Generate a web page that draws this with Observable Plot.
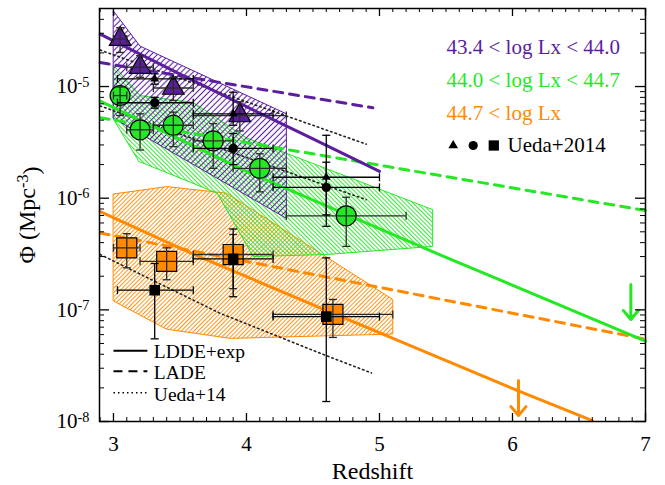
<!DOCTYPE html>
<html><head><meta charset="utf-8">
<script src="https://cdn.jsdelivr.net/npm/d3@7"></script>
<script src="https://cdn.jsdelivr.net/npm/@observablehq/plot@0.6"></script>
<style>body{margin:0;background:#fff}</style>
</head><body><div id="chart"></div>
<script>
// ---------------- data ----------------
const binLabels = ["43.4 < log Lx < 44.0", "44.0 < log Lx < 44.7", "44.7 < log Lx"];
const uedaLabel = "Ueda+2014";
const modelLabels = ["LDDE+exp", "LADE", "Ueda+14"];
const xTicks = [3, 4, 5, 6, 7];
const yTicks = [1e-8, 1e-7, 1e-6, 1e-5];

// binned points: [z, zlo, zhi, phi, philo, phihi]
const lowBin = [
  [3.05, 3.0, 3.1, 2.66e-5, 2.02e-5, 3.37e-5],
  [3.2, 3.1, 3.3, 1.49e-5, 1.21e-5, 1.89e-5],
  [3.45, 3.3, 3.6, 9.7e-6, 7.5e-6, 1.21e-5],
  [3.95, 3.6, 4.3, 5.5e-6, 4.0e-6, 7.3e-6]
];
const midBin = [
  [3.05, 3.0, 3.1, 8.3e-6, 5.5e-6, 9.9e-6],
  [3.2, 3.1, 3.3, 4.1e-6, 2.7e-6, 5.7e-6],
  [3.45, 3.3, 3.6, 4.5e-6, 2.9e-6, 5.9e-6],
  [3.75, 3.6, 3.9, 3.26e-6, 1.85e-6, 4.66e-6],
  [4.1, 3.9, 4.3, 1.85e-6, 1.14e-6, 2.5e-6],
  [4.75, 4.3, 5.2, 6.95e-7, 3.7e-7, 1.02e-6]
];
const highBin = [
  [3.1, 3.0, 3.2, 3.59e-7, 2.38e-7, 4.81e-7],
  [3.4, 3.2, 3.6, 2.72e-7, 1.86e-7, 3.59e-7],
  [3.9, 3.6, 4.2, 3.13e-7, 1.55e-7, 4.73e-7],
  [4.65, 4.2, 5.1, 9.1e-8, 5.66e-8, 1.24e-7]
];
// Ueda+2014 points
const uedaLow = [
  [3.31, 3.03, 3.6, 1.17e-5, 1.05e-5, 1.3e-5],
  [3.9, 3.6, 4.2, 5.7e-6, 4.5e-6, 8.9e-6],
  [4.6, 4.2, 5.0, 1.54e-6, 7.1e-7, 3.66e-6]
];
const uedaMid = [
  [3.31, 3.03, 3.6, 7.16e-6, 6.4e-6, 8.0e-6],
  [3.9, 3.6, 4.2, 2.79e-6, 2.0e-6, 3.8e-6],
  [4.6, 4.2, 5.0, 1.25e-6, 5.6e-7, 2.1e-6]
];
const uedaHigh = [
  [3.31, 3.03, 3.6, 1.5e-7, 5.5e-8, 2.6e-7],
  [3.9, 3.6, 4.2, 2.86e-7, 1.31e-7, 5.3e-7],
  [4.6, 4.2, 5.0, 8.7e-8, 1.51e-8, 2.92e-7]
];
// model curves [z, phi]
const lowLDDE = [[2.9, 2.95e-5], [3.5, 1.29e-5], [4.0, 6.6e-6], [4.5, 3.4e-6], [5.0, 1.74e-6]];
const lowLADE = [[2.9, 1.64e-5], [4.95, 6.45e-6]];
const lowUeda = [[2.9, 2.12e-5], [4.9, 3.05e-6]];
const midLDDE = [[2.9, 7.41e-6], [4.0, 1.74e-6], [5.5, 2.95e-7], [7.0, 5.25e-8]];
const midLADE = [[2.9, 5.26e-6], [7.0, 7.76e-7]];
const midUeda = [[2.9, 6.7e-6], [4.9, 9.7e-7]];
const highLDDE = [[2.9, 7.59e-7], [3.6, 3.16e-7], [4.63, 9.55e-8], [6.03, 1.91e-8], [6.6, 1.02e-8]];
const highLADE = [[2.9, 4.88e-7], [7.0, 5.47e-8]];
const highUeda = [[2.9, 3.13e-7], [3.8, 9.33e-8], [4.6, 3.89e-8], [4.94, 2.72e-8]];
// uncertainty bands (closed polygons) [z, phi]
const lowBand = [[3.0, 4.75e-5], [3.2, 2.3e-5], [4.3, 5.7e-6], [4.3, 6.6e-7], [3.0, 5.2e-6]];
const midBand = [[3.0, 1.55e-5], [3.2, 8.3e-6], [3.6, 7.2e-6], [4.0, 3.47e-6], [5.4, 7.9e-7],
  [5.4, 3.7e-7], [4.6, 3.13e-7], [4.05, 3.0e-7], [3.78, 1.11e-6], [3.19, 2.14e-6], [3.0, 5.1e-6]];
const highBand = [[3.0, 1.09e-6], [3.4, 1.27e-6], [3.85, 1.11e-6], [5.1, 1.24e-7],
  [5.1, 6.07e-8], [3.88, 5.55e-8], [3.4, 6.71e-8], [3.0, 1.2e-7]];
// upper limits [z, phiFrom, phiTo]
const midLimit = [[6.89, 1.69e-7, 8.2e-8]];
const highLimit = [[6.045, 2.33e-8, 1.13e-8]];

// ---------------- style / layout ----------------
const PURPLE = "#5b1e9e", GREEN = "#25e825", ORANGE = "#ff8a00";
const FONT = "Liberation Serif, Times New Roman, serif";
const W = 665, H = 485, mL = 99, mR = 20, mT = 8, mB = 64;
const FW = W - mL - mR, FH = H - mT - mB;
const legendLineX = [3.0, 3.255];
const legendLineY = [4.3e-8, 2.82e-8, 1.81e-8];

const xMinor = d3.range(29, 70).map(v => v / 10).filter(v => Math.abs(v - Math.round(v)) > 1e-9);
const yMinor = [];
for (let e = -8; e <= -5; e++) for (let k = 2; k <= 9; k++) { const v = k * Math.pow(10, e); if (v <= 5e-5) yMinor.push(v); }

const capH = {draw(ctx, size) { const r = Math.sqrt(size / Math.PI); ctx.moveTo(-r, 0); ctx.lineTo(r, 0); }};
const capV = {draw(ctx, size) { const r = Math.sqrt(size / Math.PI); ctx.moveTo(0, -r); ctx.lineTo(0, r); }};

function errBars(rows, color) {
  const o = {stroke: color, strokeWidth: 1.3};
  return [
    Plot.ruleX(rows, {x: d => d[0], y1: d => d[4], y2: d => d[5], ...o}),
    Plot.ruleY(rows, {y: d => d[3], x1: d => d[1], x2: d => d[2], ...o}),
    Plot.dot(rows, {x: d => d[0], y: d => d[4], symbol: capH, r: 4, fill: "none", ...o}),
    Plot.dot(rows, {x: d => d[0], y: d => d[5], symbol: capH, r: 4, fill: "none", ...o}),
    Plot.dot(rows, {x: d => d[1], y: d => d[3], symbol: capV, r: 4, fill: "none", ...o}),
    Plot.dot(rows, {x: d => d[2], y: d => d[3], symbol: capV, r: 4, fill: "none", ...o})
  ];
}
const px = d => d[0], py = d => d[1];
function band(rows, color, id) {
  return Plot.line(rows, {x: px, y: py, curve: "linear-closed", stroke: color, strokeWidth: 1, fill: `url(#${id})`});
}
function solid(rows, color) { return Plot.line(rows, {x: px, y: py, stroke: color, strokeWidth: 3}); }
function dashed(rows, color) { return Plot.line(rows, {x: px, y: py, stroke: color, strokeWidth: 3, strokeDasharray: "9,7"}); }
function dotted(rows) { return Plot.line(rows, {x: px, y: py, stroke: "#222", strokeWidth: 1.6, strokeDasharray: "1.5,3.2"}); }
function limit(rows, color) {
  return Plot.arrow(rows, {x: d => d[0], y1: d => d[1], y2: d => d[2], stroke: color, strokeWidth: 3, headLength: 7, headAngle: 80});
}
const tl = (text, dx, dy, fill, size = 21) => Plot.text([text], {frameAnchor: "top-left", dx, dy, text: d => d, fill, fontSize: size, fontFamily: FONT, textAnchor: "start", lineAnchor: "middle"});

const chart = Plot.plot({
  width: W, height: H,
  marginLeft: mL, marginRight: mR, marginTop: mT, marginBottom: mB,
  style: {fontFamily: FONT, background: "white"},
  x: {domain: [2.895, 7]},
  y: {type: "log", domain: [1e-8, 5e-5]},
  marks: [
    band(highBand, ORANGE, "hatchO"),
    band(midBand, GREEN, "hatchG"),
    band(lowBand, PURPLE, "hatchP"),
    dotted(lowUeda), dotted(midUeda), dotted(highUeda),
    dashed(lowLADE, PURPLE), dashed(midLADE, GREEN), dashed(highLADE, ORANGE),
    solid(lowLDDE, PURPLE), solid(midLDDE, GREEN), solid(highLDDE, ORANGE),
    limit(midLimit, GREEN), limit(highLimit, ORANGE),
    Plot.dot(lowBin, {x: d => d[0], y: d => d[3], symbol: "triangle", r: 8, fill: PURPLE, stroke: "black", strokeWidth: 1.2}),
    Plot.dot(midBin, {x: d => d[0], y: d => d[3], symbol: "circle", r: 10, fill: GREEN, stroke: "black", strokeWidth: 1.2}),
    Plot.dot(highBin, {x: d => d[0], y: d => d[3], symbol: "square", r: 11.3, fill: ORANGE, stroke: "black", strokeWidth: 1.2}),
    ...errBars(lowBin, "#2a2a2a"), ...errBars(midBin, "#2a2a2a"), ...errBars(highBin, "#2a2a2a"),
    ...errBars(uedaLow, "black"), ...errBars(uedaMid, "black"), ...errBars(uedaHigh, "black"),
    Plot.dot(uedaLow, {x: d => d[0], y: d => d[3], symbol: "triangle", r: 3.3, fill: "black"}),
    Plot.dot(uedaMid, {x: d => d[0], y: d => d[3], symbol: "circle", r: 4.7, fill: "black"}),
    Plot.dot(uedaHigh, {x: d => d[0], y: d => d[3], symbol: "square", r: 6, fill: "black"}),
    // inward ticks
    Plot.tickX(xTicks, {x: d => d, insetTop: FH - 8, strokeWidth: 1.3}),
    Plot.tickX(xTicks, {x: d => d, insetBottom: FH - 8, strokeWidth: 1.3}),
    Plot.tickX(xMinor, {x: d => d, insetTop: FH - 4, strokeWidth: 1}),
    Plot.tickX(xMinor, {x: d => d, insetBottom: FH - 4, strokeWidth: 1}),
    Plot.tickY(yTicks, {y: d => d, insetRight: FW - 10, strokeWidth: 1.3}),
    Plot.tickY(yTicks, {y: d => d, insetLeft: FW - 10, strokeWidth: 1.3}),
    Plot.tickY(yMinor, {y: d => d, insetRight: FW - 5, strokeWidth: 1}),
    Plot.tickY(yMinor, {y: d => d, insetLeft: FW - 5, strokeWidth: 1}),
    Plot.frame({stroke: "black", strokeWidth: 1.5}),
    Plot.axisX({ticks: xTicks, tickSize: 0, tickPadding: 15, fontSize: 21, fontFamily: FONT, label: null, tickFormat: d => String(d)}),
    Plot.axisY({ticks: yTicks, tickSize: 0, tickPadding: 10, fontSize: 21, fontFamily: FONT, label: null, tickFormat: d => "10|" + Math.round(Math.log10(d))}),
    Plot.text(["Redshift"], {frameAnchor: "bottom", dy: 50, text: d => d, fontSize: 24, fontFamily: FONT, textAnchor: "middle", lineAnchor: "middle"}),
    Plot.text(["Φ (Mpc|-3|)"], {frameAnchor: "left", dx: -72, rotate: -90, text: d => d, fontSize: 24, fontFamily: FONT, textAnchor: "middle", lineAnchor: "middle"}),
    // top-right legend
    tl(binLabels[0], 347, 38.7, PURPLE),
    tl(binLabels[1], 347, 72, GREEN),
    tl(binLabels[2], 347, 105, ORANGE),
    Plot.dot([0], {frameAnchor: "top-left", dx: 353.7, dy: 137, symbol: "triangle", r: 3.6, fill: "black"}),
    Plot.dot([0], {frameAnchor: "top-left", dx: 373.7, dy: 137, symbol: "circle", r: 4.6, fill: "black"}),
    Plot.dot([0], {frameAnchor: "top-left", dx: 394.3, dy: 137, symbol: "square", r: 5.8, fill: "black"}),
    tl(uedaLabel, 408, 137, "black"),
    // bottom-left legend
    Plot.link([0], {x1: () => legendLineX[0], x2: () => legendLineX[1], y1: () => legendLineY[0], y2: () => legendLineY[0], stroke: "black", strokeWidth: 1.8}),
    Plot.link([0], {x1: () => legendLineX[0], x2: () => legendLineX[1], y1: () => legendLineY[1], y2: () => legendLineY[1], stroke: "black", strokeWidth: 1.8, strokeDasharray: "9,6"}),
    Plot.link([0], {x1: () => legendLineX[0], x2: () => legendLineX[1], y1: () => legendLineY[2], y2: () => legendLineY[2], stroke: "black", strokeWidth: 1.5, strokeDasharray: "1.5,3"}),
    tl(modelLabels[0], 54.3, 343.7, "black", 19.5),
    tl(modelLabels[1], 54.3, 364.3, "black", 19.5),
    tl(modelLabels[2], 54.3, 386, "black", 19.5)
  ]
});

// hatch patterns
const defs = d3.select(chart).insert("defs", ":first-child");
function hatch(id, color, spacing, angle, width) {
  const p = defs.append("pattern").attr("id", id).attr("patternUnits", "userSpaceOnUse")
    .attr("width", spacing).attr("height", spacing).attr("patternTransform", `rotate(${angle})`);
  p.append("line").attr("x1", spacing / 2).attr("y1", -1).attr("x2", spacing / 2).attr("y2", spacing + 1)
    .attr("stroke", color).attr("stroke-width", width);
}
hatch("hatchP", PURPLE, 4.2, 45, 1.1);
hatch("hatchG", GREEN, 3.0, -45, 0.9);
hatch("hatchO", ORANGE, 3.0, 45, 0.9);

// superscripts
function supify(textEl, base, sup, tail) {
  const t = d3.select(textEl);
  t.text(null);
  t.append("tspan").text(base);
  t.append("tspan").attr("dy", "-0.45em").attr("font-size", "0.68em").text(sup);
  if (tail) t.append("tspan").attr("dy", "0.45em").text(tail);
}
d3.select(chart).selectAll("text").each(function () {
  const s = this.textContent;
  if (/^10\|/.test(s)) supify(this, "10", s.split("|")[1]);
  else if (s.indexOf("Mpc|") >= 0) { const parts = s.split("|"); supify(this, parts[0], parts[1], parts[2]); }
});

document.getElementById("chart").appendChild(chart);
</script>
</body></html>
